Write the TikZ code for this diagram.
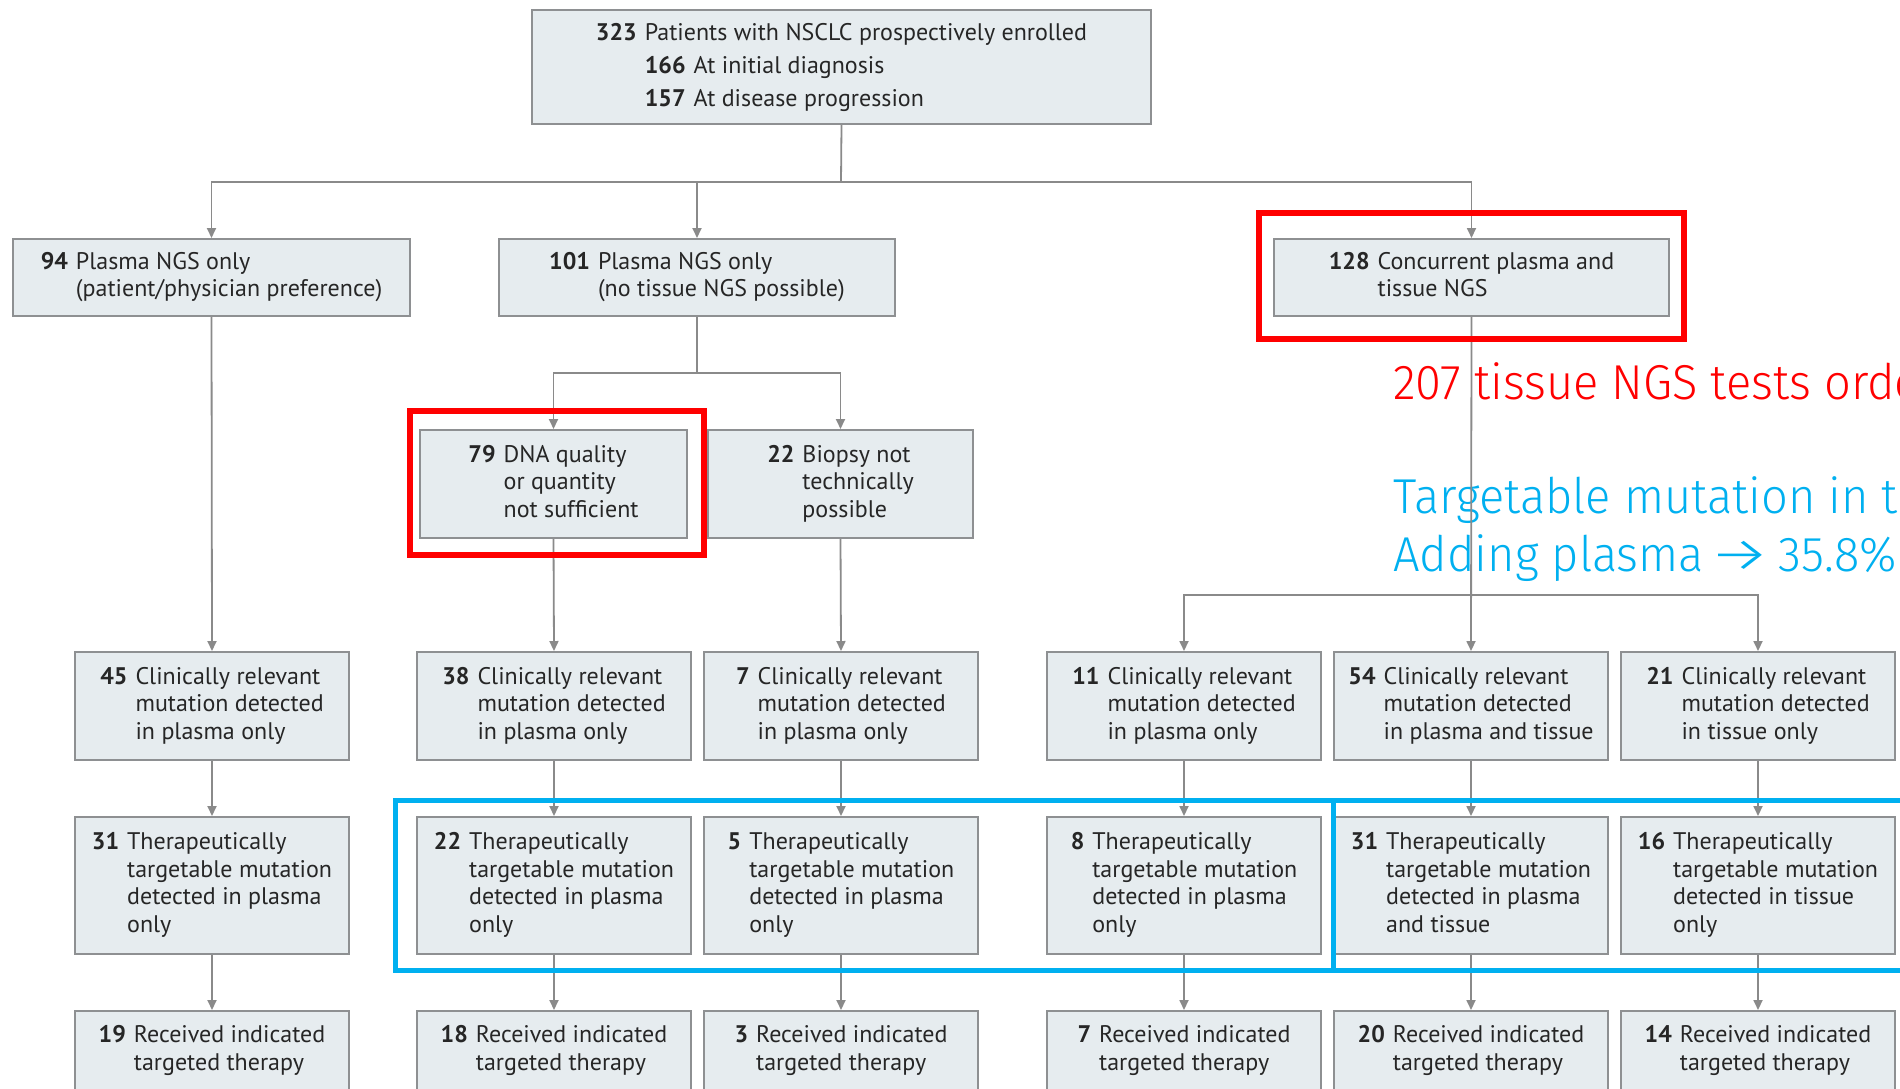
\documentclass[tikz,border=0pt]{standalone}
\usepackage{fontspec}
\setmainfont{PT Sans}
\newfontfamily\bigfont{Fira Sans}[UprightFont=* Light, FakeStretch=0.96]
\usetikzlibrary{arrows.meta}
\definecolor{boxfill}{HTML}{E6ECEF}
\definecolor{boxline}{HTML}{8E9092}
\definecolor{connc}{HTML}{8A8A8A}
\definecolor{txt}{HTML}{262626}
\definecolor{hlred}{HTML}{FF0000}
\definecolor{hlblue}{HTML}{00B0F0}
\newcommand\bxt[2]{\begin{tabular}{@{}r@{\hspace{8pt}}l@{}}\textbf{#1}&#2\end{tabular}}
\tikzset{
  box/.style={draw=boxline, fill=boxfill, line width=2pt, inner sep=0pt, text=txt,
    font=\fontsize{24}{27.5}\selectfont, minimum width=274pt, minimum height=108pt},
  conn/.style={draw=connc, line width=1.8pt},
  arr/.style={conn, -{Triangle[width=9pt,length=10pt]}},
  hlr/.style={draw=hlred, line width=6pt},
  hlb/.style={draw=hlblue, line width=5pt},
  big/.style={anchor=base west, inner sep=0pt, font=\bigfont\fontsize{49}{58}\selectfont},
}
\begin{document}
\begin{tikzpicture}[x=1pt,y=-1pt]
\useasboundingbox (0,0) rectangle (1900,1088);
\fill[white] (0,0) rectangle (1900,1088);
\clip (0,0) rectangle (1900,1088);

% overlay texts
\node[big, text=hlred] (t207) at (1393,399) {207 tissue NGS tests ordered};
\node[big, text=hlblue] (tt1) at (1393,513) {Targetable mutation in tissue};
\node[big, text=hlblue] (tt2) at (1393,571) {Adding plasma\kern-9pt\ \scalebox{1.5}[1]{→}\kern-6pt\ 35.8\%};

% boxes
\node[box, minimum width=619pt, minimum height=114pt, font=\fontsize{24}{33}\selectfont] (top) at (841.5,67)
  {\begin{tabular}{@{}r@{\hspace{8pt}}l@{}}\textbf{323}&Patients with NSCLC prospectively enrolled\\
   &\textbf{166}\hspace{8pt}At initial diagnosis\\ &\textbf{157}\hspace{8pt}At disease progression\end{tabular}};

\node[box, minimum width=397pt, minimum height=77pt] (b94) at (211.5,277.5) {\bxt{94}{Plasma NGS only\\ & (patient/physician preference)}};
\node[box, minimum width=396pt, minimum height=77pt] (b101) at (697,277.5) {\bxt{101}{Plasma NGS only\\ & (no tissue NGS possible)}};
\node[box, minimum width=395pt, minimum height=77pt] (b128) at (1471.5,277.5) {\bxt{128}{Concurrent plasma and\\ & tissue NGS}};

\node[box, minimum width=267pt] (b79) at (553.5,484) {\bxt{79}{DNA quality\\ & or quantity\\ & not sufficient}};
\node[box, minimum width=265pt] (b22) at (840.5,484) {\bxt{22}{Biopsy not\\ & technically\\ & possible}};

\node[box] (c45) at (212,706) {\bxt{45}{Clinically relevant\\ & mutation detected\\ & in plasma only}};
\node[box] (c38) at (554,706) {\bxt{38}{Clinically relevant\\ & mutation detected\\ & in plasma only}};
\node[box] (c7)  at (841,706) {\bxt{7}{Clinically relevant\\ & mutation detected\\ & in plasma only}};
\node[box] (c11) at (1184,706) {\bxt{11}{Clinically relevant\\ & mutation detected\\ & in plasma only}};
\node[box] (c54) at (1471,706) {\bxt{54}{Clinically relevant\\ & mutation detected\\ & in plasma and tissue}};
\node[box] (c21) at (1758,706) {\bxt{21}{Clinically relevant\\ & mutation detected\\ & in tissue only}};

\node[box, minimum height=137pt] (d31) at (212,885.5) {\bxt{31}{Therapeutically\\ & targetable mutation\\ & detected in plasma\\ & only}};
\node[box, minimum height=137pt] (d22) at (554,885.5) {\bxt{22}{Therapeutically\\ & targetable mutation\\ & detected in plasma\\ & only}};
\node[box, minimum height=137pt] (d5)  at (841,885.5) {\bxt{5}{Therapeutically\\ & targetable mutation\\ & detected in plasma\\ & only}};
\node[box, minimum height=137pt] (d8)  at (1184,885.5) {\bxt{8}{Therapeutically\\ & targetable mutation\\ & detected in plasma\\ & only}};
\node[box, minimum height=137pt] (d31b) at (1471,885.5) {\bxt{31}{Therapeutically\\ & targetable mutation\\ & detected in plasma\\ & and tissue}};
\node[box, minimum height=137pt] (d16) at (1758,885.5) {\bxt{16}{Therapeutically\\ & targetable mutation\\ & detected in tissue\\ & only}};

\node[box, minimum height=80pt] (e19) at (212,1051) {\bxt{19}{Received indicated\\ & targeted therapy}};
\node[box, minimum height=80pt] (e18) at (554,1051) {\bxt{18}{Received indicated\\ & targeted therapy}};
\node[box, minimum height=80pt] (e3)  at (841,1051) {\bxt{3}{Received indicated\\ & targeted therapy}};
\node[box, minimum height=80pt] (e7)  at (1184,1051) {\bxt{7}{Received indicated\\ & targeted therapy}};
\node[box, minimum height=80pt] (e20) at (1471,1051) {\bxt{20}{Received indicated\\ & targeted therapy}};
\node[box, minimum height=80pt] (e14) at (1758,1051) {\bxt{14}{Received indicated\\ & targeted therapy}};

% connectors
\coordinate (j1) at (841,182);
\coordinate (j2) at (697,373);
\coordinate (j3) at (1471,595);
\draw[conn] (top.south) -- (j1);
\draw[arr] (j1) -| (b94.north);
\draw[arr] (j1) -| (b101.north);
\draw[arr] (j1) -| (b128.north);
\draw[arr] (b94.south) -- (c45.north);
\draw[conn] (b101.south) -- (j2);
\draw[arr] (j2) -| (b79.north);
\draw[arr] (j2) -| (b22.north);
\draw[arr] (b79.south) -- (c38.north);
\draw[arr] (b22.south) -- (c7.north);
\draw[arr] (b128.south) -- (c54.north);
\draw[arr] (j3) -| (c11.north);
\draw[arr] (j3) -| (c21.north);
\foreach \a/\b/\c in {c45/d31/e19, c38/d22/e18, c7/d5/e3, c11/d8/e7, c54/d31b/e20, c21/d16/e14}{
  \draw[arr] (\a.south) -- (\b.north);
  \draw[arr] (\b.south) -- (\c.north);
}

% highlight frames
\draw[hlr] (1259,213) rectangle (1684,339);
\draw[hlr] (410,411) rectangle (704,555);
\draw[hlb] (395,800) rectangle (1333,970);
\draw[hlb] (1333,800) rectangle (1920,970);
\end{tikzpicture}
\end{document}
